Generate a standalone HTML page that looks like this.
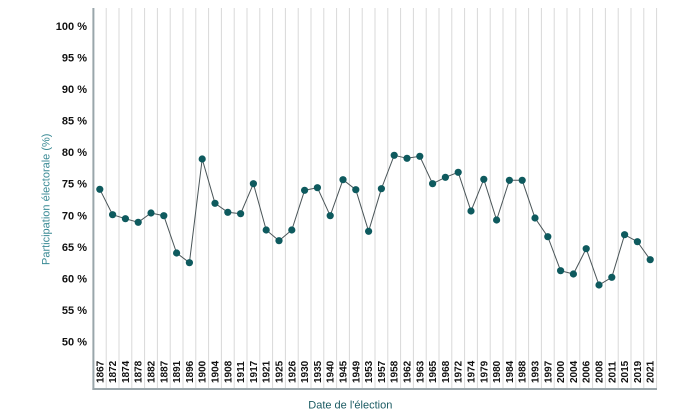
<!DOCTYPE html>
<html><head><meta charset="utf-8"><style>
html,body{margin:0;padding:0;background:#fff;width:700px;height:420px;overflow:hidden}
svg{display:block}
text{font-family:"Liberation Sans",Arial,sans-serif}
</style></head><body>
<svg width="700" height="420" viewBox="0 0 700 420" xmlns="http://www.w3.org/2000/svg">
<rect width="700" height="420" fill="#fff"/>
<g stroke="#d9d9d9" stroke-width="1">
<line x1="106.2" y1="8" x2="106.2" y2="389"/><line x1="119" y1="8" x2="119" y2="389"/><line x1="131.8" y1="8" x2="131.8" y2="389"/><line x1="144.6" y1="8" x2="144.6" y2="389"/><line x1="157.4" y1="8" x2="157.4" y2="389"/><line x1="170.2" y1="8" x2="170.2" y2="389"/><line x1="183" y1="8" x2="183" y2="389"/><line x1="195.8" y1="8" x2="195.8" y2="389"/><line x1="208.6" y1="8" x2="208.6" y2="389"/><line x1="221.4" y1="8" x2="221.4" y2="389"/><line x1="234.2" y1="8" x2="234.2" y2="389"/><line x1="247" y1="8" x2="247" y2="389"/><line x1="259.8" y1="8" x2="259.8" y2="389"/><line x1="272.6" y1="8" x2="272.6" y2="389"/><line x1="285.4" y1="8" x2="285.4" y2="389"/><line x1="298.2" y1="8" x2="298.2" y2="389"/><line x1="311" y1="8" x2="311" y2="389"/><line x1="323.8" y1="8" x2="323.8" y2="389"/><line x1="336.6" y1="8" x2="336.6" y2="389"/><line x1="349.4" y1="8" x2="349.4" y2="389"/><line x1="362.2" y1="8" x2="362.2" y2="389"/><line x1="375" y1="8" x2="375" y2="389"/><line x1="387.8" y1="8" x2="387.8" y2="389"/><line x1="400.6" y1="8" x2="400.6" y2="389"/><line x1="413.4" y1="8" x2="413.4" y2="389"/><line x1="426.2" y1="8" x2="426.2" y2="389"/><line x1="439" y1="8" x2="439" y2="389"/><line x1="451.8" y1="8" x2="451.8" y2="389"/><line x1="464.6" y1="8" x2="464.6" y2="389"/><line x1="477.4" y1="8" x2="477.4" y2="389"/><line x1="490.2" y1="8" x2="490.2" y2="389"/><line x1="503" y1="8" x2="503" y2="389"/><line x1="515.8" y1="8" x2="515.8" y2="389"/><line x1="528.6" y1="8" x2="528.6" y2="389"/><line x1="541.4" y1="8" x2="541.4" y2="389"/><line x1="554.2" y1="8" x2="554.2" y2="389"/><line x1="567" y1="8" x2="567" y2="389"/><line x1="579.8" y1="8" x2="579.8" y2="389"/><line x1="592.6" y1="8" x2="592.6" y2="389"/><line x1="605.4" y1="8" x2="605.4" y2="389"/><line x1="618.2" y1="8" x2="618.2" y2="389"/><line x1="631" y1="8" x2="631" y2="389"/><line x1="643.8" y1="8" x2="643.8" y2="389"/><line x1="656.6" y1="8" x2="656.6" y2="389"/>
</g>
<line x1="93.4" y1="8" x2="93.4" y2="390" stroke="#9aa6ab" stroke-width="2"/>
<line x1="92.4" y1="389" x2="657" y2="389" stroke="#9aa6ab" stroke-width="2"/>
<g font-size="11" font-weight="bold" fill="#111" text-anchor="end">
<text x="87" y="30">100 %</text>
<text x="87" y="61.5">95 %</text>
<text x="87" y="93">90 %</text>
<text x="87" y="124.6">85 %</text>
<text x="87" y="156.2">80 %</text>
<text x="87" y="187.7">75 %</text>
<text x="87" y="219.3">70 %</text>
<text x="87" y="250.8">65 %</text>
<text x="87" y="282.4">60 %</text>
<text x="87" y="313.9">55 %</text>
<text x="87" y="345.5">50 %</text>
</g>
<text transform="translate(49.5,265) rotate(-90)" font-size="11" fill="#3a8a95">Participation électorale (%)</text>
<text x="350.3" y="408.5" font-size="11" fill="#1a5a62" text-anchor="middle">Date de l'élection</text>
<g font-size="10" font-weight="bold" fill="#111">
<text transform="translate(103.3,383) rotate(-90)">1867</text>
<text transform="translate(116.1,383) rotate(-90)">1872</text>
<text transform="translate(128.9,383) rotate(-90)">1874</text>
<text transform="translate(141.7,383) rotate(-90)">1878</text>
<text transform="translate(154.5,383) rotate(-90)">1882</text>
<text transform="translate(167.3,383) rotate(-90)">1887</text>
<text transform="translate(180.1,383) rotate(-90)">1891</text>
<text transform="translate(192.9,383) rotate(-90)">1896</text>
<text transform="translate(205.7,383) rotate(-90)">1900</text>
<text transform="translate(218.5,383) rotate(-90)">1904</text>
<text transform="translate(231.3,383) rotate(-90)">1908</text>
<text transform="translate(244.1,383) rotate(-90)">1911</text>
<text transform="translate(256.9,383) rotate(-90)">1917</text>
<text transform="translate(269.7,383) rotate(-90)">1921</text>
<text transform="translate(282.5,383) rotate(-90)">1925</text>
<text transform="translate(295.3,383) rotate(-90)">1926</text>
<text transform="translate(308.1,383) rotate(-90)">1930</text>
<text transform="translate(320.9,383) rotate(-90)">1935</text>
<text transform="translate(333.7,383) rotate(-90)">1940</text>
<text transform="translate(346.5,383) rotate(-90)">1945</text>
<text transform="translate(359.3,383) rotate(-90)">1949</text>
<text transform="translate(372.1,383) rotate(-90)">1953</text>
<text transform="translate(384.9,383) rotate(-90)">1957</text>
<text transform="translate(397.7,383) rotate(-90)">1958</text>
<text transform="translate(410.5,383) rotate(-90)">1962</text>
<text transform="translate(423.3,383) rotate(-90)">1963</text>
<text transform="translate(436.1,383) rotate(-90)">1965</text>
<text transform="translate(448.9,383) rotate(-90)">1968</text>
<text transform="translate(461.7,383) rotate(-90)">1972</text>
<text transform="translate(474.5,383) rotate(-90)">1974</text>
<text transform="translate(487.3,383) rotate(-90)">1979</text>
<text transform="translate(500.1,383) rotate(-90)">1980</text>
<text transform="translate(512.9,383) rotate(-90)">1984</text>
<text transform="translate(525.7,383) rotate(-90)">1988</text>
<text transform="translate(538.5,383) rotate(-90)">1993</text>
<text transform="translate(551.3,383) rotate(-90)">1997</text>
<text transform="translate(564.1,383) rotate(-90)">2000</text>
<text transform="translate(576.9,383) rotate(-90)">2004</text>
<text transform="translate(589.7,383) rotate(-90)">2006</text>
<text transform="translate(602.5,383) rotate(-90)">2008</text>
<text transform="translate(615.3,383) rotate(-90)">2011</text>
<text transform="translate(628.1,383) rotate(-90)">2015</text>
<text transform="translate(640.9,383) rotate(-90)">2019</text>
<text transform="translate(653.7,383) rotate(-90)">2021</text>
</g>
<polyline fill="none" stroke="#4a5558" stroke-width="1" points="99.8,189.3 112.6,214.7 125.4,218.7 138.2,222.3 151,213 163.8,215.7 176.6,253 189.4,262.7 202.2,159 215,203.3 227.8,212.3 240.6,213.7 253.4,183.7 266.2,230 279,240.7 291.8,230 304.6,190.3 317.4,187.7 330.2,215.7 343,179.7 355.8,189.7 368.6,231.3 381.4,188.7 394.2,155.3 407,158.3 419.8,156.3 432.6,183.7 445.4,177.3 458.2,172.3 471,211 483.8,179.3 496.6,220 509.4,180.3 522.2,180.3 535,218 547.8,236.7 560.6,270.7 573.4,274 586.2,248.7 599,285 611.8,277.3 624.6,234.7 637.4,241.7 650.2,259.7"/>
<g fill="#0e5a5e">
<circle cx="99.8" cy="189.3" r="3.6"/><circle cx="112.6" cy="214.7" r="3.6"/><circle cx="125.4" cy="218.7" r="3.6"/><circle cx="138.2" cy="222.3" r="3.6"/><circle cx="151" cy="213" r="3.6"/><circle cx="163.8" cy="215.7" r="3.6"/><circle cx="176.6" cy="253" r="3.6"/><circle cx="189.4" cy="262.7" r="3.6"/><circle cx="202.2" cy="159" r="3.6"/><circle cx="215" cy="203.3" r="3.6"/><circle cx="227.8" cy="212.3" r="3.6"/><circle cx="240.6" cy="213.7" r="3.6"/><circle cx="253.4" cy="183.7" r="3.6"/><circle cx="266.2" cy="230" r="3.6"/><circle cx="279" cy="240.7" r="3.6"/><circle cx="291.8" cy="230" r="3.6"/><circle cx="304.6" cy="190.3" r="3.6"/><circle cx="317.4" cy="187.7" r="3.6"/><circle cx="330.2" cy="215.7" r="3.6"/><circle cx="343" cy="179.7" r="3.6"/><circle cx="355.8" cy="189.7" r="3.6"/><circle cx="368.6" cy="231.3" r="3.6"/><circle cx="381.4" cy="188.7" r="3.6"/><circle cx="394.2" cy="155.3" r="3.6"/><circle cx="407" cy="158.3" r="3.6"/><circle cx="419.8" cy="156.3" r="3.6"/><circle cx="432.6" cy="183.7" r="3.6"/><circle cx="445.4" cy="177.3" r="3.6"/><circle cx="458.2" cy="172.3" r="3.6"/><circle cx="471" cy="211" r="3.6"/><circle cx="483.8" cy="179.3" r="3.6"/><circle cx="496.6" cy="220" r="3.6"/><circle cx="509.4" cy="180.3" r="3.6"/><circle cx="522.2" cy="180.3" r="3.6"/><circle cx="535" cy="218" r="3.6"/><circle cx="547.8" cy="236.7" r="3.6"/><circle cx="560.6" cy="270.7" r="3.6"/><circle cx="573.4" cy="274" r="3.6"/><circle cx="586.2" cy="248.7" r="3.6"/><circle cx="599" cy="285" r="3.6"/><circle cx="611.8" cy="277.3" r="3.6"/><circle cx="624.6" cy="234.7" r="3.6"/><circle cx="637.4" cy="241.7" r="3.6"/><circle cx="650.2" cy="259.7" r="3.6"/>
</g>
</svg>
</body></html>
